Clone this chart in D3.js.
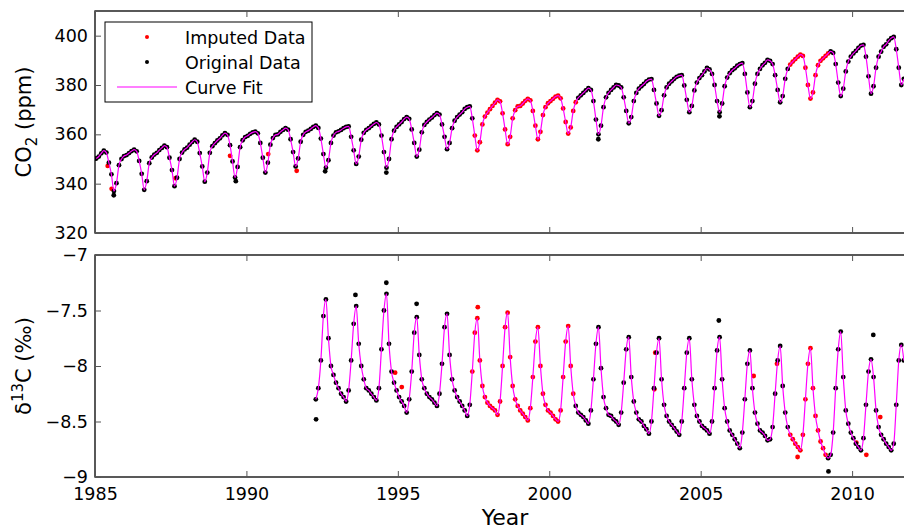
<!DOCTYPE html>
<html>
<head>
<meta charset="utf-8">
<script src="https://cdnjs.cloudflare.com/ajax/libs/d3/7.8.5/d3.min.js"></script>
<style>
  body { margin: 0; background: #fff; }
  svg { font-family: "DejaVu Sans", sans-serif; }
</style>
</head>
<body>
<script>
// Define SVG area dimensions
var svgWidth = 904;
var svgHeight = 530;

// Tick values
var yearTicks = [1985, 1990, 1995, 2000, 2005, 2010];
var co2Ticks = [320, 340, 360, 380, 400];
var d13cTicks = [-9, -8.5, -8, -7.5, -7];

// Monthly CO2 (ppm), starting Jan 1985
var co2StartYear = 1985;
var co2Values = [
  350.2, 351.0, 352.3, 353.4, 352.6, 348.5, 343.8, 337.0, 340.2, 347.5, 350.0, 351.2,
  351.6, 352.4, 353.2, 353.8, 353.1, 349.2, 344.0, 337.5, 341.0, 348.3, 350.6, 351.8,
  352.5, 353.6, 354.5, 355.4, 354.8, 350.5, 345.5, 339.0, 342.4, 350.0, 352.6, 353.9,
  354.6, 355.8, 356.9, 357.8, 357.0, 352.4, 347.0, 340.8, 344.5, 352.5, 355.2, 356.4,
  357.5, 358.4, 359.6, 360.5, 359.8, 355.6, 349.0, 342.5, 346.8, 354.8, 357.6, 358.9,
  359.4, 360.2, 360.8, 361.1, 360.4, 356.5, 350.5, 344.5, 348.5, 355.8, 358.5, 359.8,
  360.0, 361.0, 361.8, 362.5, 361.9, 358.0, 352.8, 347.0, 350.2, 357.0, 359.8, 361.0,
  361.5, 362.2, 363.0, 363.5, 362.6, 358.3, 352.0, 346.5, 349.5, 356.5, 359.5, 360.8,
  361.2, 361.8, 362.5, 363.0, 363.2, 359.0, 353.5, 348.0, 351.0, 357.8, 360.6, 361.8,
  362.5, 363.4, 364.2, 364.8, 364.0, 359.5, 352.8, 346.5, 350.0, 358.0, 361.5, 363.0,
  364.0, 365.0, 366.2, 367.0, 366.3, 362.0, 356.5, 351.0, 353.8, 360.8, 363.8, 365.0,
  366.0, 366.8, 367.8, 368.6, 368.0, 364.0, 359.0, 354.0, 356.5, 362.5, 365.5, 367.0,
  368.0, 369.0, 370.3, 371.0, 371.3, 366.5, 359.5, 353.5, 356.8, 364.0, 367.2, 368.8,
  370.2, 371.5, 372.8, 374.0, 373.4, 368.5, 362.0, 356.0, 359.0, 366.5, 369.8, 371.3,
  371.5, 372.5, 373.6, 374.4, 373.8, 369.5, 363.5, 358.0, 361.0, 367.8, 371.0, 372.6,
  373.5, 374.4, 375.3, 375.7, 374.6, 370.5, 365.0, 360.3, 362.8, 369.5, 373.0, 374.8,
  375.8, 376.8, 377.8, 378.7, 378.0, 373.5, 366.0, 360.0, 363.5, 371.0, 375.0, 376.8,
  378.0, 379.0, 380.0, 379.8, 379.0, 375.0, 369.5, 364.5, 367.0, 373.5, 376.8, 378.5,
  379.5, 380.4, 381.5, 382.2, 382.4, 378.0, 372.5, 367.5, 369.8, 375.8, 379.0, 380.5,
  381.5, 382.5, 383.3, 383.8, 384.0, 379.8, 374.0, 369.0, 371.5, 377.8, 381.0, 382.8,
  384.0, 385.5, 386.9, 386.3, 384.5, 380.0, 373.5, 369.0, 372.5, 379.5, 383.0, 384.8,
  386.0, 386.8, 387.8, 388.5, 388.9, 384.5, 377.0, 371.0, 373.5, 380.5, 384.5, 386.5,
  388.0, 389.0, 390.2, 389.8, 388.5, 384.0, 378.0, 373.0, 375.5, 382.5, 386.5, 388.3,
  389.5, 390.5, 391.5, 392.3, 391.8, 387.0, 380.0, 374.5, 377.0, 384.0, 388.0, 389.8,
  390.8, 391.8, 392.8, 393.6, 393.0, 388.5, 381.0, 375.5, 378.5, 385.5, 389.5, 391.5,
  392.8, 393.8, 395.0, 396.0, 396.3, 391.5, 383.5, 376.5, 379.5, 387.0, 391.5, 393.5,
  395.5, 396.5, 398.0, 399.0, 399.5, 394.5, 387.0, 380.0, 382.5
];
// periods filled in by imputation
var co2ImputedSpans = [[1997.5, 2000.92], [2007.9, 2009.25]];
// isolated samples: [year, ppm, imputed?]
var co2Extra = [
  [1985.42, 347.2, 1], [1985.55, 337.9, 1], [1985.62, 335.3, 0], [1987.66, 342.2, 1],
  [1989.46, 351.3, 1], [1989.65, 341.0, 0], [1990.72, 352.0, 1], [1991.66, 345.2, 1],
  [1992.6, 345.0, 0], [1994.62, 344.5, 0], [2001.62, 358.0, 0], [2005.62, 367.3, 0]
];

// Monthly delta 13C (per mil), starting Apr 1992
var d13cStartYear = 1992;
var d13cStartMonth = 3;
var d13cValues = [
  -8.30, -8.20, -7.95, -7.55, -7.40, -7.75, -8.00, -8.08, -8.15,
  -8.20, -8.25, -8.28, -8.32, -8.22, -7.95, -7.62, -7.46, -7.80, -8.00, -8.12, -8.20,
  -8.22, -8.25, -8.28, -8.31, -8.20, -7.85, -7.50, -7.35, -7.80, -8.05, -8.15, -8.22,
  -8.28, -8.32, -8.36, -8.42, -8.30, -8.05, -7.70, -7.56, -7.90, -8.12, -8.20, -8.25,
  -8.28, -8.30, -8.33, -8.36, -8.25, -7.98, -7.65, -7.53, -7.90, -8.12, -8.22, -8.28,
  -8.32, -8.36, -8.40, -8.45, -8.35, -8.05, -7.70, -7.57, -7.95, -8.18, -8.28, -8.33,
  -8.36, -8.38, -8.40, -8.44, -8.32, -8.00, -7.65, -7.52, -7.92, -8.18, -8.30, -8.36,
  -8.40, -8.43, -8.46, -8.49, -8.38, -8.10, -7.78, -7.65, -8.00, -8.25, -8.35, -8.40,
  -8.42, -8.45, -8.48, -8.50, -8.40, -8.10, -7.78, -7.64, -8.00, -8.25, -8.36, -8.42,
  -8.44, -8.46, -8.49, -8.52, -8.40, -8.12, -7.80, -7.65, -8.02, -8.28, -8.38, -8.44,
  -8.45, -8.48, -8.50, -8.53, -8.42, -8.15, -7.85, -7.74, -8.10, -8.32, -8.42, -8.48,
  -8.50, -8.54, -8.57, -8.61, -8.50, -8.20, -7.88, -7.75, -8.12, -8.35, -8.45, -8.50,
  -8.53, -8.56, -8.59, -8.62, -8.50, -8.20, -7.88, -7.75, -8.12, -8.35, -8.45, -8.50,
  -8.54, -8.56, -8.58, -8.61, -8.50, -8.20, -7.86, -7.74, -8.12, -8.38, -8.50, -8.58,
  -8.62, -8.66, -8.70, -8.74, -8.60, -8.30, -7.98, -7.86, -8.20, -8.42, -8.52, -8.58,
  -8.60, -8.63, -8.67, -8.66, -8.55, -8.25, -7.95, -7.82, -8.18, -8.42, -8.55, -8.62,
  -8.66, -8.70, -8.73, -8.76, -8.62, -8.30, -7.98, -7.84, -8.20, -8.45, -8.58, -8.68,
  -8.74, -8.80, -8.83, -8.80, -8.60, -8.20, -7.85, -7.69, -8.10, -8.40, -8.52, -8.60,
  -8.65, -8.70, -8.73, -8.76, -8.65, -8.35, -8.05, -7.94, -8.10, -8.40, -8.55, -8.62,
  -8.66, -8.70, -8.73, -8.76, -8.70, -8.35, -7.95, -7.81, -7.95
];
var d13cImputedSpans = [[1997.42, 2000.85], [2007.95, 2009.15]];
var d13cExtra = [
  [1992.3, -8.48, 0], [1993.6, -7.36, 0], [1994.62, -7.25, 0], [1994.91, -8.06, 1],
  [1995.13, -8.19, 1], [1995.62, -7.44, 0], [1997.64, -7.47, 1], [2003.47, -8.21, 1],
  [2003.5, -7.88, 1], [2006.75, -8.09, 1], [2005.6, -7.59, 0], [2007.52, -7.98, 1],
  [2008.2, -8.82, 1], [2009.22, -8.95, 0], [2010.14, -8.69, 1], [2010.47, -8.8, 1],
  [2010.7, -7.72, 0], [2010.93, -8.46, 1]
];

// Build point lists from the monthly arrays
function inSpans(t, spans) {
  return spans.some(s => t >= s[0] && t <= s[1]);
}
var co2Data = co2Values.map((v, i) => {
  var t = co2StartYear + (i + 0.5) / 12;
  return { t: t, v: v, imp: inSpans(t, co2ImputedSpans) };
});
var d13cData = d13cValues.map((v, i) => {
  var t = d13cStartYear + (d13cStartMonth + i + 0.5) / 12;
  return { t: t, v: v, imp: inSpans(t, d13cImputedSpans) };
});

var svg = d3.select("body")
  .append("svg")
  .attr("width", svgWidth)
  .attr("height", svgHeight);

// Shared x scale, the right edge of the axes runs just past the picture
var xScale = d3.scaleLinear()
  .domain([1985, 2011.78])
  .range([95, 906]);

var panels = [
  { top: 11, bottom: 233, domain: [320, 410], ticks: co2Ticks, data: co2Data, extra: co2Extra, labels: false },
  { top: 255, bottom: 477, domain: [-9, -7], ticks: d13cTicks, data: d13cData, extra: d13cExtra, labels: true }
];

panels.forEach((p, k) => {
  var y = d3.scaleLinear().domain(p.domain).range([p.bottom, p.top]);
  var g = svg.append("g");

  svg.append("clipPath").attr("id", "clip" + k)
    .append("rect")
    .attr("x", xScale.range()[0]).attr("y", p.top)
    .attr("width", xScale.range()[1] - xScale.range()[0])
    .attr("height", p.bottom - p.top);

  var plot = g.append("g").attr("clip-path", `url(#clip${k})`);

  var pts = p.data.map(d => [d.t, d.v, d.imp ? 1 : 0])
    .concat(p.extra);

  // imputed first, original over it, then the fit
  plot.selectAll("circle.imp")
    .data(pts.filter(d => d[2] === 1))
    .enter().append("circle")
    .attr("cx", d => xScale(d[0]))
    .attr("cy", d => y(d[1]))
    .attr("r", 2.4)
    .attr("fill", "#ff0000");

  plot.selectAll("circle.orig")
    .data(pts.filter(d => d[2] === 0))
    .enter().append("circle")
    .attr("cx", d => xScale(d[0]))
    .attr("cy", d => y(d[1]))
    .attr("r", 2.4)
    .attr("fill", "#000");

  var line = d3.line()
    .x(d => xScale(d.t))
    .y(d => y(d.v))
    .curve(d3.curveMonotoneX);

  plot.append("path")
    .attr("d", line(p.data))
    .attr("fill", "none")
    .attr("stroke", "#ff00ff")
    .attr("stroke-width", 1.2);

  // box
  g.append("rect")
    .attr("x", xScale.range()[0]).attr("y", p.top)
    .attr("width", xScale.range()[1] - xScale.range()[0])
    .attr("height", p.bottom - p.top)
    .attr("fill", "none")
    .attr("stroke", "#000")
    .attr("stroke-width", 1.3);

  // axes with inward ticks
  var left = g.append("g")
    .attr("transform", `translate(${xScale.range()[0]},0)`)
    .call(d3.axisLeft(y).tickValues(p.ticks).tickSize(-6).tickSizeOuter(0)
      .tickPadding(7).tickFormat(d3.format("~g")));

  var bottom = g.append("g")
    .attr("transform", `translate(0,${p.bottom})`)
    .call(d3.axisBottom(xScale).tickValues(yearTicks).tickSize(-6).tickSizeOuter(0)
      .tickPadding(11).tickFormat(p.labels ? d3.format("d") : ""));

  var topAx = g.append("g")
    .attr("transform", `translate(0,${p.top})`)
    .call(d3.axisTop(xScale).tickValues(yearTicks).tickSize(-6).tickSizeOuter(0)
      .tickFormat(""));

  [left, bottom, topAx].forEach(a => {
    a.select(".domain").remove();
    a.selectAll(".tick line").attr("stroke", "#555");
    a.selectAll("text")
      .attr("fill", "#000")
      .style("font-family", "DejaVu Sans, sans-serif")
      .style("font-size", "17.5px");
  });
});

// Axis labels
var co2Label = svg.append("text")
  .attr("transform", "translate(31,122) rotate(-90)")
  .attr("text-anchor", "middle")
  .style("font-size", "21px");
co2Label.append("tspan").text("CO");
co2Label.append("tspan").text("2").attr("dy", 6).style("font-size", "15px");
co2Label.append("tspan").text(" (ppm)").attr("dy", -6);

var d13cLabel = svg.append("text")
  .attr("transform", "translate(31,366) rotate(-90)")
  .attr("text-anchor", "middle")
  .style("font-size", "21px");
d13cLabel.append("tspan").text("δ");
d13cLabel.append("tspan").text("13").attr("dy", -8).style("font-size", "15px");
d13cLabel.append("tspan").text("C (‰)").attr("dy", 8);

svg.append("text")
  .attr("x", 505)
  .attr("y", 525)
  .attr("text-anchor", "middle")
  .style("font-size", "22px")
  .text("Year");

// Legend
var legend = svg.append("g");
legend.append("rect")
  .attr("x", 105).attr("y", 22)
  .attr("width", 207).attr("height", 80)
  .attr("fill", "#fff")
  .attr("stroke", "#000")
  .attr("stroke-width", 1);

var legendItems = ["Imputed Data", "Original Data", "Curve Fit"];
legendItems.forEach((name, i) => {
  var ly = 37 + i * 25;
  if (i < 2) {
    legend.append("circle")
      .attr("cx", 147).attr("cy", ly).attr("r", 2)
      .attr("fill", i === 0 ? "#ff0000" : "#000");
  } else {
    legend.append("line")
      .attr("x1", 117).attr("x2", 177)
      .attr("y1", ly).attr("y2", ly)
      .attr("stroke", "#ff00ff")
      .attr("stroke-width", 1.2);
  }
  legend.append("text")
    .attr("x", 185)
    .attr("y", ly + 6.5)
    .style("font-size", "17.5px")
    .text(name);
});
</script>
</body>
</html>
